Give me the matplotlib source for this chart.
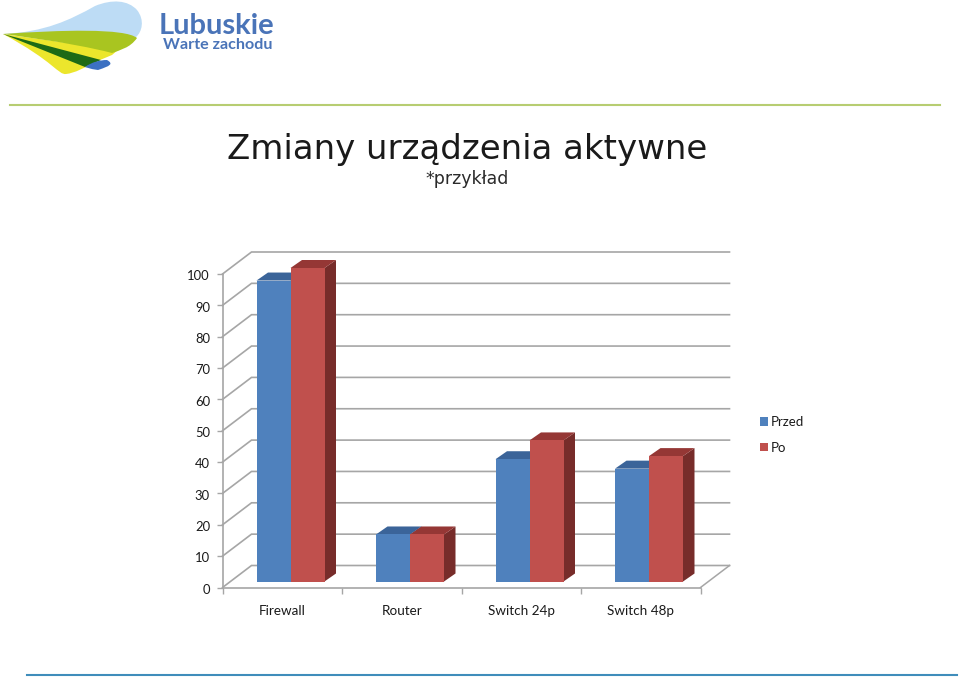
import matplotlib
matplotlib.use("Agg")
import matplotlib.pyplot as plt
from matplotlib.patches import Patch, PathPatch
from matplotlib.path import Path
from matplotlib.transforms import ScaledTranslation
import numpy as np

categories = ["Firewall", "Router", "Switch 24p", "Switch 48p"]
przed = [96, 15, 39, 36]
po = [100, 15, 45, 40]
y_ticks = list(range(0, 101, 10))

W, H = 959, 680
BLUE, RED = "#4f81bd", "#c0504d"
BLUE_TOP, RED_TOP, RED_SIDE = "#3b6499", "#953735", "#772c2a"
BLUE_SIDE = "#2f4f7a"
GRID = "#a6a6a6"
TXT = "#1a1a1a"

plt.rcParams["font.family"] = ["Lato", "DejaVu Sans"]
fig = plt.figure(figsize=(W / 100, H / 100), dpi=100)

# page layer in pixel coordinates
pg = fig.add_axes([0, 0, 1, 1], zorder=0)
pg.set_xlim(0, W)
pg.set_ylim(H, 0)
pg.axis("off")

pg.plot([10, 940], [104.5, 104.5], color="#b7cd72", lw=1.5)
pg.plot([27, 957], [674.5, 674.5], color="#3f8dbb", lw=1.5)

pg.text(467, 150, "Zmiany urządzenia aktywne", family="DejaVu Sans", fontsize=24.5,
        ha="center", va="center", color="#1a1a1a")
pg.text(467, 179, "*przykład", family="DejaVu Sans", fontsize=12.5,
        ha="center", va="center", color="#2a2a2a")


def shape(verts, codes, color):
    pg.add_patch(PathPatch(Path(verts, codes), fc=color, ec="none", lw=0))


M, C, L, Z = Path.MOVETO, Path.CURVE4, Path.LINETO, Path.CLOSEPOLY
shape([(3, 34), (45, 32), (70, 20), (95, 6), (112, -1), (128, 0), (137, 10),
       (145, 20), (142, 32), (136, 37), (3, 34)],
      [M, C, C, C, C, C, C, C, C, C, Z], "#bddcf5")
shape([(3, 34), (55, 62), (58, 75), (66, 74), (75, 73), (84, 68), (100, 60),
       (112, 55), (118, 50), (3, 34)],
      [M, C, C, C, C, C, C, L, L, Z], "#ece62c")
shape([(3, 34), (60, 30), (125, 28), (137, 38), (130, 48), (120, 50), (112, 53),
       (70, 42), (3, 34), (3, 34)],
      [M, C, C, C, C, C, C, C, C, Z], "#a9c520")
shape([(3, 34), (101, 60), (85, 67), (3, 34)], [M, L, L, Z], "#1d6a16")
shape([(85, 67), (92, 62), (100, 60), (107, 60), (114, 64), (110, 66), (98, 70),
       (90, 69), (85, 67), (85, 67)],
      [M, C, C, C, C, C, C, C, C, Z], "#3c71c2")
pg.text(159, 34, "Lubuskie", family="Lato", fontweight="bold", fontsize=21,
        color="#4a74b8", ha="left", va="baseline")
pg.text(163, 49, "Warte zachodu", family="Lato", fontweight="bold", fontsize=11.6,
        color="#4a74b8", ha="left", va="baseline")

# chart: axes frame is the front plane of the 3-D box
x0, x1, y0, y100 = 222.5, 700.5, 587.5, 274.0
ax = fig.add_axes([x0 / W, 1 - y0 / H, (x1 - x0) / W, (y0 - y100) / H], zorder=1)
ax.patch.set_alpha(0)
ax.set_xlim(0, 4)
ax.set_ylim(0, 100)

cat_px = (x1 - x0) / 4
unit_px = (y0 - y100) / 100
wall_dx, wall_dy = 29 / cat_px, 22 / unit_px
bar_dx, bar_dy = 11.5 / cat_px, 8 / unit_px
base = 6 / unit_px
bar_w = 34 / cat_px
first_left = 34 / cat_px

# box gridlines
for t in y_ticks:
    ax.plot([0, wall_dx, 4 + wall_dx], [t, t + wall_dy, t + wall_dy],
            color=GRID, lw=1.2, clip_on=False, zorder=1, solid_joinstyle="miter")
ax.plot([4, 4 + wall_dx], [0, wall_dy], color=GRID, lw=1.1, clip_on=False, zorder=1)


def bars(lefts, vals, front, top, side, z):
    tops = np.asarray(vals) + base
    ax.bar(lefts, vals, width=bar_w, bottom=base, align="edge", color=front,
           zorder=z + 1, clip_on=False)
    for l, t in zip(lefts, tops):
        r = l + bar_w
        ax.fill([r, r + bar_dx, r + bar_dx, r], [base, base + bar_dy, t + bar_dy, t],
                color=side, lw=0, zorder=z, clip_on=False)
        ax.fill([l, l + bar_dx, r + bar_dx, r], [t, t + bar_dy, t + bar_dy, t],
                color=top, lw=0, zorder=z, clip_on=False)


idx = np.arange(len(categories))
bars(idx + first_left, przed, BLUE, BLUE_TOP, BLUE_SIDE, 3)
bars(idx + first_left + bar_w, po, RED, RED_TOP, RED_SIDE, 5)

# axes
for s in ("top", "right"):
    ax.spines[s].set_visible(False)
for s in ("left", "bottom"):
    ax.spines[s].set_color(GRID)
    ax.spines[s].set_linewidth(1.2)
ax.set_yticks(y_ticks)
ax.tick_params(axis="y", length=4, width=1.0, color=GRID, pad=5, labelsize=9.4, labelcolor=TXT)
shift = ScaledTranslation(0, -1.2 / 100, fig.dpi_scale_trans)
for lab in ax.get_yticklabels():
    lab.set_transform(lab.get_transform() + shift)
ax.set_xticks(np.arange(5))
ax.set_xticklabels([])
ax.tick_params(axis="x", which="major", length=4, width=1.0, color=GRID)
ax.set_xticks(idx + 0.5, minor=True)
ax.set_xticklabels(categories, minor=True)
ax.tick_params(axis="x", which="minor", length=0, pad=12.5, labelsize=9.7, labelcolor=TXT)

leg = ax.legend(handles=[Patch(fc=BLUE, label="Przed"), Patch(fc=RED, label="Po")],
                loc="upper left", bbox_to_anchor=((760 - x0) / (x1 - x0), (y0 - 416) / (y0 - y100)),
                frameon=False, fontsize=9.5, handlelength=0.62, handleheight=0.62,
                handletextpad=0.22, labelspacing=1.05, borderpad=0, borderaxespad=0,
                labelcolor=TXT)

fig.savefig("out.png", dpi=100)
